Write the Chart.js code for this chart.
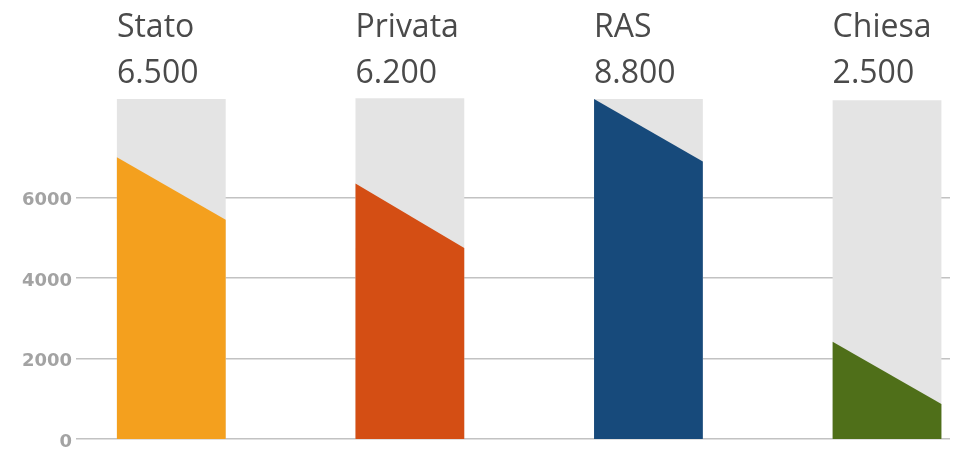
<!DOCTYPE html>
<html>
<head>
<meta charset="utf-8">
<script src="https://cdn.jsdelivr.net/npm/chart.js@4.4.0/dist/chart.umd.min.js"></script>
<style>
  html, body { margin: 0; padding: 0; background: #fff; }
  #wrap { width: 973px; height: 455px; position: relative; }
</style>
</head>
<body>
<div id="wrap"><canvas id="spesaChart"></canvas></div>
<script>
// dati
const categorie = ['Stato', 'Privata', 'RAS', 'Chiesa'];
const totali = [6500, 6200, 8800, 2500];
const fondo = [8450, 8470, 8450, 8420];      // colonna grigia
const altezzaSinistra = [7000, 6350, 8450, 2420];
const altezzaDestra = [5450, 4750, 6900, 870];
const colori = ['#f4a01e', '#d44e14', '#174a7b', '#4f6f19'];
const yTicks = [0, 2000, 4000, 6000];

// formato italiano: 6500 -> 6.500
function formatta(v) {
    return String(v).replace(/\B(?=(\d{3})+(?!\d))/g, '.');
}

// disegna le colonne con il bordo superiore inclinato e le etichette sopra
const colonneInclinate = {
    id: 'colonneInclinate',
    afterDatasetsDraw(chart) {
        const ctx = chart.ctx;
        const y = chart.scales.y;
        const meta = chart.getDatasetMeta(0);
        const area = chart.chartArea;
        meta.data.forEach((bar, i) => {
            const x0 = bar.x - bar.width / 2;
            const x1 = bar.x + bar.width / 2;
            ctx.save();
            ctx.fillStyle = colori[i];
            ctx.beginPath();
            ctx.moveTo(x0, y.getPixelForValue(0));
            ctx.lineTo(x0, y.getPixelForValue(altezzaSinistra[i]));
            ctx.lineTo(x1, y.getPixelForValue(altezzaDestra[i]));
            ctx.lineTo(x1, y.getPixelForValue(0));
            ctx.closePath();
            ctx.fill();

            ctx.fillStyle = '#4a4a4a';
            ctx.font = '32px "Open Sans", sans-serif';
            ctx.textAlign = 'left';
            ctx.textBaseline = 'alphabetic';
            ctx.fillText(categorie[i], x0, area.top - 60);
            ctx.fillText(formatta(totali[i]), x0, area.top - 14);
            ctx.restore();
        });
    }
};

const chart = new Chart(document.getElementById('spesaChart').getContext('2d'), {
    type: 'bar',
    data: {
        datasets: [{
            data: fondo.map((v, i) => ({ x: i, y: v })),
            backgroundColor: '#e4e4e4',
            borderWidth: 0,
            categoryPercentage: 1,
            barPercentage: 0.456
        }]
    },
    options: {
        responsive: true,
        maintainAspectRatio: false,
        animation: false,
        layout: { padding: { top: 97, left: 18, right: 23, bottom: 16 } },
        plugins: {
            legend: { display: false },
            tooltip: { enabled: false }
        },
        scales: {
            x: {
                type: 'linear',
                display: false,
                offset: false,
                min: -0.399,
                max: 3.264,
                afterBuildTicks: axis => {
                    axis.ticks = categorie.map((c, i) => ({ value: i }));
                }
            },
            y: {
                min: 0,
                max: 8500,
                afterBuildTicks: axis => {
                    axis.ticks = yTicks.map(v => ({ value: v }));
                },
                border: { display: false },
                grid: {
                    color: '#c2c2c2',
                    lineWidth: 1.5,
                    drawTicks: false
                },
                ticks: {
                    color: '#a3a3a3',
                    font: { family: 'DejaVu Sans', size: 18, weight: 'bold' },
                    padding: 4,
                    labelOffset: 3,
                    callback: v => String(v)
                }
            }
        }
    },
    plugins: [colonneInclinate]
});
</script>
</body>
</html>
